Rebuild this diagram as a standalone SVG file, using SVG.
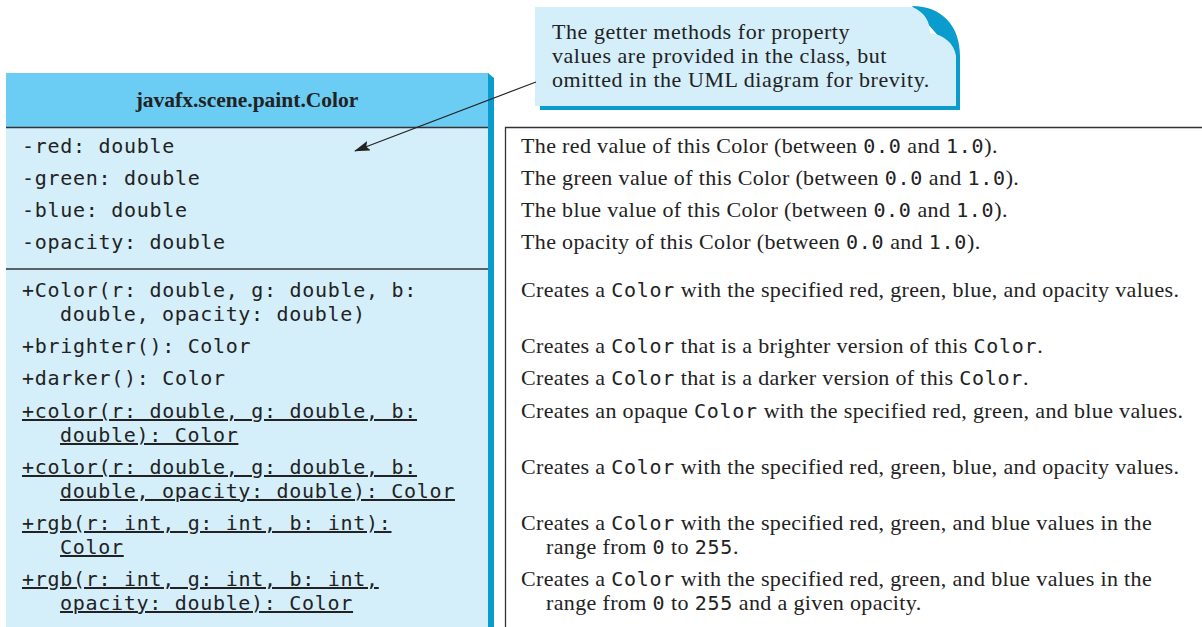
<svg xmlns="http://www.w3.org/2000/svg" width="1202" height="627" viewBox="0 0 1202 627">
<style>
.mono{font-family:"DejaVu Sans Mono","Liberation Mono",monospace;font-size:20px;letter-spacing:0.7px;fill:#222}
.u{text-decoration:underline}
.serif{font-family:"Liberation Serif","Times New Roman",serif;font-size:22px;letter-spacing:0.35px;fill:#222}
.note{letter-spacing:0.55px}
.sm{font-family:"DejaVu Sans Mono","Liberation Mono",monospace;font-size:20px;letter-spacing:0.7px}
.title{font-family:"Liberation Serif","Times New Roman",serif;font-size:21.5px;font-weight:bold;fill:#222}
.sep{stroke:#333;stroke-width:1.5}
</style>
<defs>
<marker id="arr" viewBox="0 0 16 10" refX="15" refY="5" markerWidth="16" markerHeight="10" markerUnits="userSpaceOnUse" orient="auto">
<path d="M0,0 L16,5 L0,10 L3,5 Z" fill="#222"/>
</marker>
</defs>
<rect width="1202" height="627" fill="#fff"/>

<g id="class-color">
<path d="M488,73 L494,78 V627 H488 Z" fill="#0a9ccc"/>
<rect x="6" y="73" width="482" height="554" fill="#d4eefa"/>
<rect x="6" y="73" width="482" height="54" fill="#6ccdf4"/>
<line class="sep" x1="6" y1="127.5" x2="488" y2="127.5"/>
<line class="sep" x1="6" y1="269" x2="488" y2="269"/>
<text class="title" x="247" y="107" text-anchor="middle">javafx.scene.paint.Color</text>
<text class="mono" x="22" y="153">-red: double</text>
<text class="mono" x="22" y="185">-green: double</text>
<text class="mono" x="22" y="217">-blue: double</text>
<text class="mono" x="22" y="249">-opacity: double</text>
<text class="mono" x="22" y="297">+Color(r: double, g: double, b:</text>
<text class="mono" x="60" y="321">double, opacity: double)</text>
<text class="mono" x="22" y="353">+brighter(): Color</text>
<text class="mono" x="22" y="385">+darker(): Color</text>
<text class="mono u" x="22" y="418">+color(r: double, g: double, b:</text>
<text class="mono u" x="60" y="442">double): Color</text>
<text class="mono u" x="22" y="474">+color(r: double, g: double, b:</text>
<text class="mono u" x="60" y="498">double, opacity: double): Color</text>
<text class="mono u" x="22" y="530">+rgb(r: int, g: int, b: int):</text>
<text class="mono u" x="60" y="554">Color</text>
<text class="mono u" x="22" y="586">+rgb(r: int, g: int, b: int,</text>
<text class="mono u" x="60" y="610">opacity: double): Color</text>
</g>

<g id="descriptions">
<path d="M1202,127.5 H505.5 V627" fill="none" stroke="#333" stroke-width="1.3"/>
<text class="serif" x="521" y="153">The red value of this Color (between <tspan class="sm">0.0</tspan> and <tspan class="sm">1.0</tspan>).</text>
<text class="serif" x="521" y="185">The green value of this Color (between <tspan class="sm">0.0</tspan> and <tspan class="sm">1.0</tspan>).</text>
<text class="serif" x="521" y="217">The blue value of this Color (between <tspan class="sm">0.0</tspan> and <tspan class="sm">1.0</tspan>).</text>
<text class="serif" x="521" y="249">The opacity of this Color (between <tspan class="sm">0.0</tspan> and <tspan class="sm">1.0</tspan>).</text>
<text class="serif" x="521" y="297">Creates a <tspan class="sm">Color</tspan> with the specified red, green, blue, and opacity values.</text>
<text class="serif" x="521" y="353">Creates a <tspan class="sm">Color</tspan> that is a brighter version of this <tspan class="sm">Color</tspan>.</text>
<text class="serif" x="521" y="385">Creates a <tspan class="sm">Color</tspan> that is a darker version of this <tspan class="sm">Color</tspan>.</text>
<text class="serif" x="521" y="418">Creates an opaque <tspan class="sm">Color</tspan> with the specified red, green, and blue values.</text>
<text class="serif" x="521" y="474">Creates a <tspan class="sm">Color</tspan> with the specified red, green, blue, and opacity values.</text>
<text class="serif" x="521" y="530">Creates a <tspan class="sm">Color</tspan> with the specified red, green, and blue values in the</text>
<text class="serif" x="546" y="554">range from <tspan class="sm">0</tspan> to <tspan class="sm">255</tspan>.</text>
<text class="serif" x="521" y="586">Creates a <tspan class="sm">Color</tspan> with the specified red, green, and blue values in the</text>
<text class="serif" x="546" y="610">range from <tspan class="sm">0</tspan> to <tspan class="sm">255</tspan> and a given opacity.</text>
</g>

<g id="note">
<path d="M912,6 C942,6 960,26 960,56 V110 H540 V106 H956 V56 Z" fill="#0a9ccc"/>
<path d="M535,7 H912 C925,12 930,22 930,33 C944,35 954,43 956,56 V106 H535 Z" fill="#d4eefa"/>
<text class="serif note" x="552" y="39">The getter methods for property</text>
<text class="serif note" x="552" y="63">values are provided in the class, but</text>
<text class="serif note" x="552" y="87">omitted in the UML diagram for brevity.</text>
</g>

<g id="connectors">
<line x1="536" y1="82" x2="355" y2="151" stroke="#222" stroke-width="1.2" marker-end="url(#arr)"/>
</g>
</svg>
